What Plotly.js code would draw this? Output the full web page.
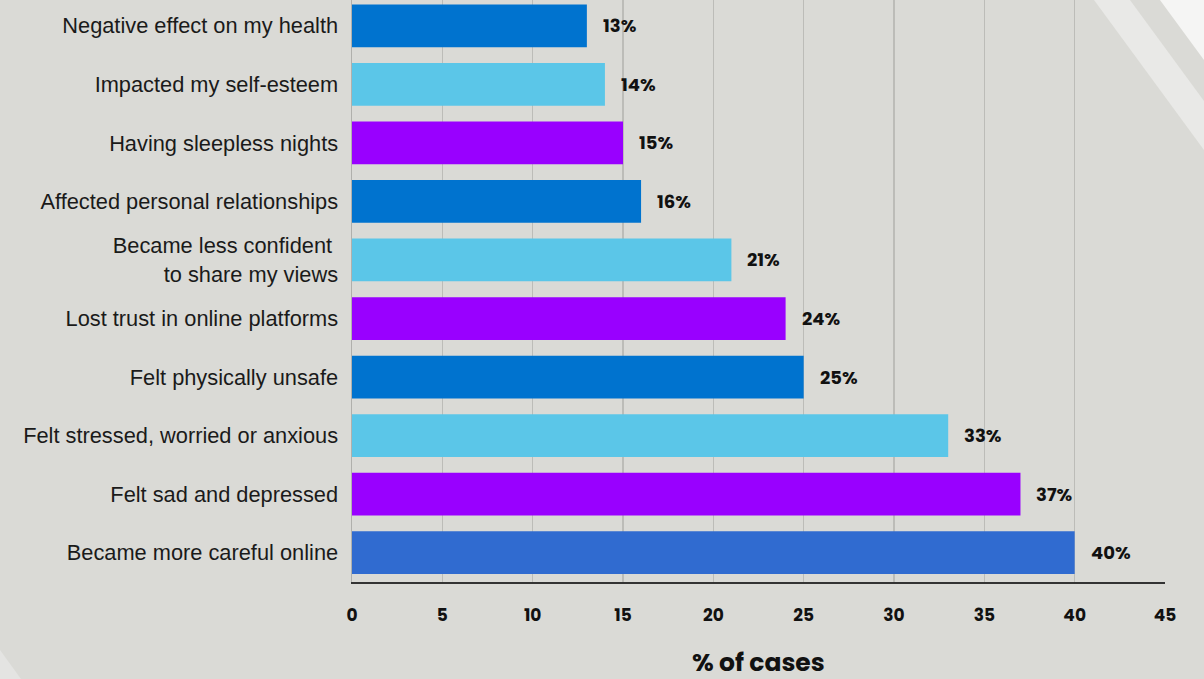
<!DOCTYPE html>
<html><head><meta charset="utf-8">
<script src="https://cdn.plot.ly/plotly-3.0.1.min.js"></script>
<style>html,body{margin:0;padding:0;background:#dadad6;}#chart{width:1204px;height:679px;}</style>
</head><body><div id="chart"></div>
<script>
const categories = [
  "Negative effect on my health",
  "Impacted my self-esteem",
  "Having sleepless nights",
  "Affected personal relationships",
  "Became less confident <br>to share my views",
  "Lost trust in online platforms",
  "Felt physically unsafe",
  "Felt stressed, worried or anxious",
  "Felt sad and depressed",
  "Became more careful online"
];
const values = [13, 14, 15, 16, 21, 24, 25, 33, 37, 40];
const barColors = ["#0073cf","#5bc6e8","#9900ff","#0073cf","#5bc6e8","#9900ff","#0073cf","#5bc6e8","#9900ff","#306bd0"];
const xTicks = [0,5,10,15,20,25,30,35,40,45];

const W = 1204, H = 679, L = 352, R = 39, T = 0, B = 97;
const pw = W - L - R, ph = H - T - B;
const px = x => (x - L) / pw;
const py = y => 1 - (y - T) / ph;
function poly(pts){ return "M" + pts.map(p => px(p[0]).toFixed(4) + "," + py(p[1]).toFixed(4)).join(" L") + " Z"; }

const boldFont = "Poppins, Inter, 'DejaVu Sans', sans-serif";

const trace = {
  type: "bar", orientation: "h",
  y: categories, x: values,
  marker: {color: barColors},
  width: 0.73,
  hoverinfo: "none"
};

const annotations = values.map((v, i) => ({
  x: v, y: categories[i], xref: "x", yref: "y",
  text: "<b>" + v + "%</b>", showarrow: false,
  xanchor: "left", xshift: 14,
  font: {family: boldFont, size: 18, color: "#111"}
}));
annotations.push({
  x: 0.5, y: py(662), xref: "paper", yref: "paper", yanchor: "middle",
  text: "<b>% of cases</b>", showarrow: false,
  font: {family: boldFont, size: 25, color: "#111"}
});

const shapes = [
  {type: "path", xref: "paper", yref: "paper", layer: "below", line: {width: 0}, fillcolor: "#e9e9e7",
   path: poly([[1094,0],[1130,0],[1204,101],[1204,150]])},
  {type: "path", xref: "paper", yref: "paper", layer: "below", line: {width: 0}, fillcolor: "#f5f5f4",
   path: poly([[1160,0],[1204,0],[1204,60]])},
  {type: "path", xref: "paper", yref: "paper", layer: "below", line: {width: 0}, fillcolor: "#e4e4e2",
   path: poly([[0,650],[0,679],[21,679]])}
];

const layout = {
  width: W, height: H,
  margin: {l: L, r: R, t: T, b: B, pad: 0},
  paper_bgcolor: "#dadad6", plot_bgcolor: "rgba(0,0,0,0)",
  showlegend: false,
  xaxis: {
    range: [0, 45], tickvals: xTicks, ticktext: xTicks.map(String),
    showgrid: true, gridcolor: "#bcbcb8", gridwidth: 1.5,
    zeroline: false,
    showline: true, linecolor: "#333", linewidth: 2,
    ticks: "", ticklabelstandoff: 17,
    tickfont: {family: boldFont, size: 17, color: "#111", weight: "bold"},
    fixedrange: true
  },
  yaxis: {
    autorange: false, range: [-0.5, 9.44],
    categoryorder: "array", categoryarray: categories.slice().reverse(),
    showgrid: false, zeroline: false,
    showline: true, linecolor: "#b0b0ac", linewidth: 1.5,
    ticks: "", ticklabelstandoff: 8,
    tickfont: {family: "'Liberation Sans', Arial, sans-serif", size: 21.8, color: "#1a1a1a"},
    fixedrange: true
  },
  annotations: annotations,
  shapes: shapes
};

Plotly.newPlot("chart", [trace], layout, {displayModeBar: false, staticPlot: true});
</script>
</body></html>
